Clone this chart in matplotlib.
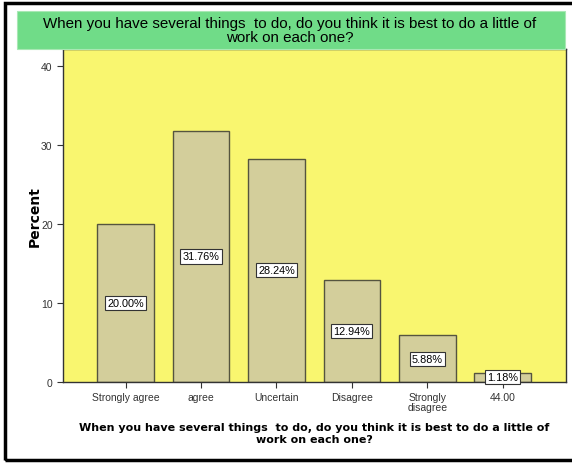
import matplotlib.pyplot as plt
from matplotlib.patches import Rectangle

categories = ["Strongly agree", "agree", "Uncertain", "Disagree", "Strongly\ndisagree", "44.00"]
percents = [20.00, 31.76, 28.24, 12.94, 5.88, 1.18]
title = "When you have several things  to do, do you think it is best to do a little of\nwork on each one?"

fig = plt.figure(figsize=(5.72, 4.64), dpi=100)
fig.patch.set_facecolor("white")

# outer frame (right side runs off the image)
fig.patches.append(Rectangle((5 / 572, 3 / 464), 575 / 572, 457 / 464, transform=fig.transFigure,
                             fill=False, edgecolor="black", linewidth=2.5))

# green title band
fig.patches.append(Rectangle((17 / 572, (464 - 50) / 464), 548 / 572, 38 / 464,
                             transform=fig.transFigure, facecolor="#70dc88",
                             edgecolor="#a8e8b4", linewidth=0.8))
fig.text(290 / 572, (464 - 31) / 464, title, ha="center", va="center",
         fontsize=10.9, linespacing=1.0, family="Liberation Sans")

ax = fig.add_axes([63 / 572, (464 - 383) / 464, 503 / 572, 333 / 464])
ax.set_facecolor("#f9f66f")
x = list(range(len(categories)))
ax.bar(x, percents, width=0.75, color="#d3ce9b", edgecolor="#55543f", linewidth=1.0)

for xi, p in zip(x, percents):
    ax.text(xi, p / 2, f"{p:.2f}%", ha="center", va="center", fontsize=7.8,
            family="Liberation Sans",
            bbox=dict(boxstyle="square,pad=0.2", facecolor="white", edgecolor="#333333", linewidth=0.8))

ax.set_xlim(-0.83, 5.84)
ax.set_ylim(0, 42.1)
ax.set_yticks([0, 10, 20, 30, 40])
ax.set_xticks(x)
ax.set_xticklabels(categories, fontsize=7.5, family="Liberation Sans", linespacing=0.9)
ax.tick_params(axis="y", labelsize=7.5, length=4, colors="#333333")
ax.tick_params(axis="x", length=4, colors="#333333")
for lbl in ax.get_yticklabels():
    lbl.set_family("Liberation Sans")

for side in ["left", "bottom", "top", "right"]:
    ax.spines[side].set_color("#333333")
    ax.spines[side].set_linewidth(1.0)

fig.text(35 / 572, (464 - 217) / 464, "Percent", rotation=90, ha="center", va="center",
         fontsize=10, fontweight="bold", family="DejaVu Sans")
fig.text(314 / 572, (464 - 434) / 464, title, ha="center", va="center",
         fontsize=8.05, fontweight="bold", family="DejaVu Sans", linespacing=1.3)

fig.savefig("out.png", dpi=100)
